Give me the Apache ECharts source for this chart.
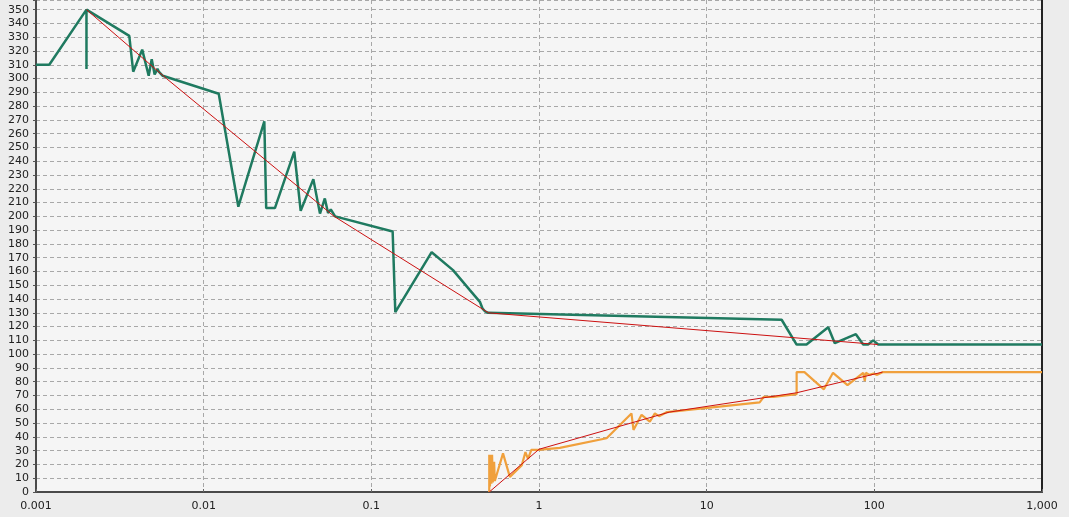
<!DOCTYPE html>
<html>
<head>
<meta charset="utf-8">
<script src="https://cdn.jsdelivr.net/npm/echarts@6/dist/echarts.min.js"></script>
<style>
html,body{margin:0;padding:0;background:#ececec;}
#chart{width:1069px;height:517px;}
</style>
</head>
<body>
<div id="chart"></div>
<script>
// X tick labels (log decades)
const xTickLabels = ['0.001', '0.01', '0.1', '1', '10', '100', '1,000'];

// Green series
const greenX = [0.001, 0.0012, 0.002, 0.002, 0.002, 0.0036, 0.0038, 0.0043, 0.0047, 0.0049, 0.0051, 0.0053, 0.0054, 0.0057,
  0.0123, 0.0161, 0.023, 0.0236, 0.0266, 0.0347, 0.0379, 0.0451, 0.0494, 0.0528, 0.0552, 0.0573, 0.0608,
  0.134, 0.139, 0.229, 0.307, 0.387, 0.444, 0.461, 0.477, 0.497,
  28, 34.4, 39.4, 53.1, 58.1, 77.6, 85.8, 91.8, 98.4, 105.4, 1000];
const greenY = [310, 310, 350, 307, 350, 331, 305, 321, 302, 314, 303, 307, 305, 302,
  289, 207, 269, 206, 206, 247, 204, 227, 202, 213, 202.5, 205, 200,
  189, 130.5, 174, 161, 146.5, 138, 133, 131, 130,
  125, 107, 107, 119.5, 108, 114.5, 107, 107, 110, 107, 107];

// Green envelope (red)
const redGreenX = [0.002, 0.006, 0.06, 0.5, 105];
const redGreenY = [350, 300, 200, 130, 107];

// Orange series
const orangeX = [0.505, 0.505, 0.51, 0.515, 0.52, 0.525, 0.53, 0.54, 0.545, 0.61, 0.67, 0.79, 0.83, 0.86, 0.9, 0.99,
  1.33, 2.53, 3.56, 3.66, 4.09, 4.58, 4.91, 5.2, 5.8, 20.7, 21.9, 25, 34.4, 34.4, 38.3,
  50, 56.7, 69.2, 85.8, 87.7, 89, 93.5, 99, 104, 112.7, 1000];
const orangeY = [0, 27, 4, 27, 6, 27, 7, 22, 8, 28, 11, 19.5, 29, 24, 30.5, 30.5,
  32, 39, 57, 45, 56, 51, 57, 55, 58, 65, 69, 69, 71, 87, 87,
  74.5, 86.5, 77.6, 86.5, 80.5, 86.5, 85, 86, 85, 87, 87];

// Orange envelope (red)
const redOrangeX = [0.505, 1, 6, 34.4, 112];
const redOrangeY = [0, 31, 58, 72, 87];

const zip = (xs, ys) => xs.map((x, i) => [x, ys[i]]);

const chart = echarts.init(document.getElementById('chart'), null, {renderer: 'canvas'});
const FONT = 'DejaVu Sans';
const gridLine = {show: true, lineStyle: {color: '#a8a8a8', type: [4, 3], width: 1}};

chart.setOption({
  animation: false,
  backgroundColor: '#ececec',
  grid: {left: 36, right: 27, top: 0, bottom: 25, show: true, backgroundColor: '#f5f5f5', borderWidth: 0},
  xAxis: {
    type: 'log', logBase: 10, min: 0.001, max: 1000, splitNumber: 6,
    axisLine: {show: true, onZero: false, lineStyle: {color: '#4a4a4a', width: 2}},
    axisTick: {show: true, inside: true, length: 3, lineStyle: {color: '#666'}},
    axisLabel: {
      fontFamily: FONT, fontSize: 11, color: '#222', margin: 9,
      formatter: v => { const e = Math.round(Math.log10(v)); return xTickLabels[e + 3] || ''; }
    },
    splitLine: gridLine
  },
  yAxis: [{
    type: 'value', min: 0, max: 357, interval: 10,
    axisLine: {show: true, lineStyle: {color: '#4a4a4a', width: 2}},
    axisTick: {show: true, length: 3, lineStyle: {color: '#555'}},
    axisLabel: {
      fontFamily: FONT, fontSize: 11, color: '#222', margin: 7,
      formatter: v => (v % 10 === 0 && v <= 350) ? String(v) : ''
    },
    splitLine: gridLine
  }, {
    type: 'value', min: 0, max: 357, position: 'right',
    axisLine: {show: true, lineStyle: {color: '#222', width: 2}},
    axisTick: {show: false}, axisLabel: {show: false}, splitLine: {show: false}
  }],
  series: [
    {type: 'line', data: zip(greenX, greenY), showSymbol: false, lineStyle: {color: '#1f7a60', width: 2.5}, z: 3},
    {type: 'line', data: zip(orangeX, orangeY), showSymbol: false, lineStyle: {color: '#f0a03c', width: 2.2}, z: 3},
    {type: 'line', data: zip(redGreenX, redGreenY), showSymbol: false, lineStyle: {color: '#cc1010', width: 1}, z: 4},
    {type: 'line', data: zip(redOrangeX, redOrangeY), showSymbol: false, lineStyle: {color: '#cc1010', width: 1}, z: 4}
  ]
});
</script>
</body>
</html>
